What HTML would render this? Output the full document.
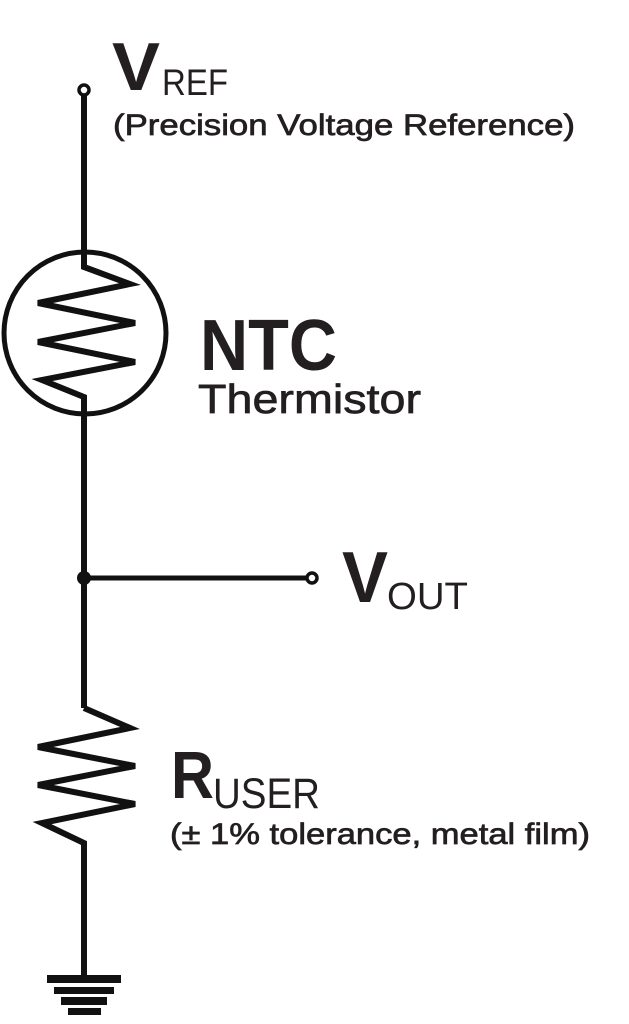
<!DOCTYPE html>
<html><head><meta charset="utf-8"><style>
html,body{margin:0;padding:0;background:#fff;}
svg{display:block;}
text{font-family:"Liberation Sans",sans-serif;fill:#231f20;}
.m{stroke:#231f20;stroke-width:0.7;}
</style></head><body>
<svg width="629" height="1024" viewBox="0 0 629 1024" xmlns="http://www.w3.org/2000/svg">
<g stroke="#111" stroke-width="6" fill="none" stroke-linejoin="miter">
<line x1="84" y1="95" x2="84" y2="265"/>
<circle cx="84" cy="90" r="5" stroke-width="3.5" fill="#fff"/>
<circle cx="85" cy="333" r="81" stroke-width="5"/>
<polyline points="84,252 84,267 130,284 38,303 135,323 38,342 135,362 42,380 84,397 84,415"/>
<line x1="84" y1="397" x2="84" y2="708"/>
<polyline points="84,708 130,728 38,747 135,766 38,785 135,804 42,823 84,843 84,976" />
<line x1="84" y1="578" x2="307" y2="578" stroke-width="5"/>
<circle cx="312" cy="578" r="5" stroke-width="3.5" fill="#fff"/>
</g>
<circle cx="84" cy="578" r="7" fill="#111"/>
<g fill="#111">
<rect x="47" y="975" width="74" height="8"/>
<rect x="54" y="987" width="60" height="7"/>
<rect x="61" y="997" width="46" height="8"/>
<rect x="68" y="1008" width="33" height="7"/>
</g>
<text x="112" y="90" font-size="68" font-weight="bold" textLength="48" lengthAdjust="spacingAndGlyphs">V</text>
<text x="162" y="95" font-size="37" textLength="66" lengthAdjust="spacingAndGlyphs">REF</text>
<text class="m" x="113" y="135" font-size="30" textLength="462" lengthAdjust="spacingAndGlyphs">(Precision Voltage Reference)</text>
<text x="200" y="370" font-size="72" font-weight="bold" textLength="137" lengthAdjust="spacingAndGlyphs">NTC</text>
<text class="m" x="198" y="413" font-size="41" textLength="223" lengthAdjust="spacingAndGlyphs">Thermistor</text>
<text x="342" y="602" font-size="72" font-weight="bold" textLength="46" lengthAdjust="spacingAndGlyphs">V</text>
<text x="387" y="609" font-size="38" textLength="81" lengthAdjust="spacingAndGlyphs">OUT</text>
<text x="171" y="798" font-size="67" font-weight="bold" textLength="43" lengthAdjust="spacingAndGlyphs">R</text>
<text x="213" y="808" font-size="43" textLength="107" lengthAdjust="spacingAndGlyphs">USER</text>
<text class="m" x="170" y="844" font-size="30" textLength="420" lengthAdjust="spacingAndGlyphs">(± 1% tolerance, metal film)</text>
</svg>
</body></html>
